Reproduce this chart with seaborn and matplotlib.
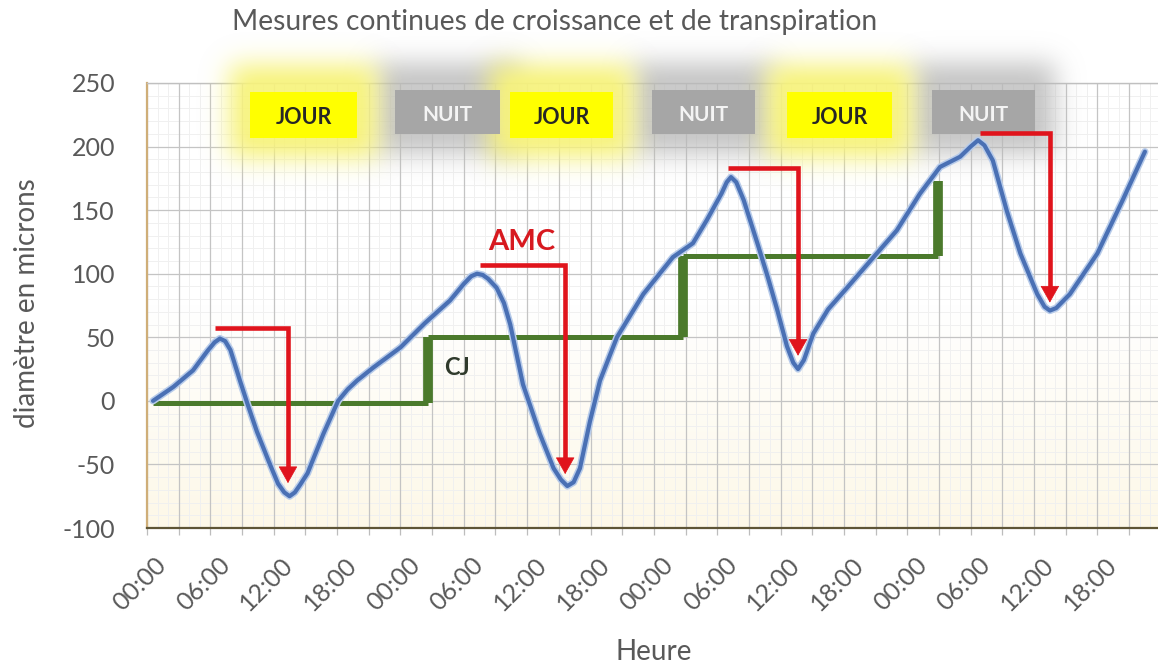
import numpy as np
import pandas as pd
import matplotlib
matplotlib.use("Agg")
import matplotlib.pyplot as plt
import matplotlib.patheffects as pe
from matplotlib.patches import Rectangle
from matplotlib.colors import LinearSegmentedColormap, to_rgb
import seaborn as sns

# ---------------- data ----------------
hours = [-0.93, 1.0, 2.86, 4.2, 4.9, 5.4, 5.9, 6.4, 7.3, 8.0, 8.9, 10.0, 10.9, 11.5,
         12.0, 12.5, 13.0, 13.7, 15.2, 16.6, 17.5, 18.4, 19.9, 21.2, 22.5,
         24.8, 26.0, 27.2, 28.5, 29.2, 29.75, 30.3, 30.8, 31.6, 32.3, 32.9, 34.1,
         35.7, 37.0, 37.7, 38.3, 38.9, 39.5, 40.45, 41.4, 43.0, 45.5, 48.3, 50.2,
         51.5, 52.9, 53.4, 53.8, 54.3, 55.0, 56.3, 57.3, 58.2, 59.1, 59.7, 60.15,
         60.7, 61.6, 63.0, 64.8, 67.3, 69.5, 71.7, 73.6, 75.5, 76.5, 77.2, 77.8,
         78.6, 79.9, 81.2, 82.8, 83.5, 84.0, 84.6, 85.9, 88.5, 90.9, 93.0]
diameter = [0, 11, 24, 39, 46, 49, 47, 40, 16, -2, -24, -47, -65, -72,
            -75, -72, -66, -57, -26, 0, 9, 16, 26, 34, 42,
            61, 70, 79, 92, 98, 100, 99, 96, 89, 77, 60, 13,
            -26, -53, -62, -67, -64, -53, -16, 16, 50, 84, 113, 124,
            142, 163, 172, 176, 172, 158, 124, 97, 71, 43, 30, 25,
            32, 53, 72, 89, 113, 134, 163, 184, 192, 200, 205, 201,
            189, 150, 116, 84, 74, 71, 73, 84, 116, 158, 196]

# CJ step (croissance journaliere)
cj_hours = [-0.9, 25.1, 49.3, 73.4]
cj_values = [-2, 50, 114, 173]

# AMC arrows
amc_start = [4.9, 30.0, 53.5, 77.4]
amc_end = [11.85, 38.1, 60.15, 84.0]
amc_top = [57, 106.5, 183, 211]
amc_tip = [-64.7, -57.6, 35.5, 77.3]

# day / night boxes
period_labels = ["JOUR", "NUIT", "JOUR", "NUIT", "JOUR", "NUIT"]
period_start = [8.25, 22.0, 32.9, 46.3, 59.1, 72.8]
period_end = [18.4, 31.9, 42.6, 56.1, 69.05, 82.6]
period_bottom = [206.6, 209.8, 206.6, 209.8, 206.6, 209.8]
period_top = [243.0, 244.5, 243.0, 244.5, 243.0, 244.5]

tick_hours = list(range(0, 91, 6))
tick_labels = ["00:00", "06:00", "12:00", "18:00"] * 4
y_ticks = [-100, -50, 0, 50, 100, 150, 200, 250]

title = "Mesures continues de croissance et de transpiration"
xlabel = "Heure"
ylabel = "diamètre en microns"

# ---------------- style ----------------
sns.set_theme(style="white")
plt.rcParams["font.family"] = ["Lato", "DejaVu Sans"]
plt.rcParams["axes.unicode_minus"] = False
GRAY_TXT = "#595959"
RED = "#e0141c"
GREEN = "#4b7a2c"
BLUE = "#4a70b4"

W, H = 1158, 668
fig = plt.figure(figsize=(W / 100, H / 100), dpi=100)
ax_l, ax_r, ax_t, ax_b = 147, 1158, 83, 528
ax = fig.add_axes([ax_l / W, 1 - ax_b / H, (ax_r - ax_l) / W, (ax_b - ax_t) / H])

xmin = -1.5
xmax = xmin + (ax_r - ax_l) / (31.68 / 3)
ymin, ymax = -100, 250
px_h = (ax_r - ax_l) / (xmax - xmin)
px_v = (ax_b - ax_t) / (ymax - ymin)

# background gradient
cmap_bg = LinearSegmentedColormap.from_list("bg", ["#ffffff", "#ffffff", "#fdf8e8"])
ax.imshow(np.linspace(0, 1, 256).reshape(-1, 1), cmap=cmap_bg, extent=[0, 1, 0, 1],
          transform=ax.transAxes, aspect="auto", zorder=0)

# grids
for h in np.arange(xmin, xmax, 1.0):
    ax.axvline(h, color="#f0f0f0", lw=0.7, zorder=0.5)
for v in range(ymin, ymax + 1, 10):
    ax.axhline(v, color="#f0f0f0", lw=0.7, zorder=0.5)
ax.set_xticks(np.arange(xmin, xmax, 3.0), minor=True)
ax.grid(which="minor", axis="x", color="#c4c4c4", lw=0.9, zorder=0.6)
ax.set_yticks(y_ticks)
ax.grid(which="major", axis="y", color="#c4c4c4", lw=0.9, zorder=0.6)
ax.set_axisbelow(True)

ax.set_xticks(tick_hours)
ax.set_xticklabels(tick_labels, rotation=45, ha="right", va="center",
                   rotation_mode="anchor", color=GRAY_TXT, fontsize=18)
ax.tick_params(axis="x", which="major", length=0, pad=24)
ax.tick_params(axis="x", which="minor", length=5, color="#bdbdbd", width=0.9,
               direction="out", bottom=True)
ax.tick_params(axis="y", length=0, pad=23, labelsize=18, labelcolor=GRAY_TXT)

for s in ax.spines.values():
    s.set_visible(True)
ax.spines["top"].set_color("#c0c0c0")
ax.spines["top"].set_linewidth(1.0)
ax.spines["left"].set_color("#cfae78")
ax.spines["left"].set_linewidth(1.6)
ax.spines["bottom"].set_color("#5e5535")
ax.spines["bottom"].set_linewidth(1.6)
ax.spines["right"].set_visible(False)

# ---------------- glow behind day / night boxes ----------------
def gauss_blur(img, sigma):
    r = int(3 * sigma)
    k = np.exp(-0.5 * (np.arange(-r, r + 1) / sigma) ** 2)
    k /= k.sum()
    img = np.apply_along_axis(lambda m: np.convolve(m, k, mode="same"), 0, img)
    img = np.apply_along_axis(lambda m: np.convolve(m, k, mode="same"), 1, img)
    return img

g_top, g_bot = 0, 260  # figure pixel rows covered by the glow image
nx, ny = ax_r - ax_l, g_bot - g_top
mask_day = np.zeros((ny, nx))
mask_night = np.zeros((ny, nx))
grow = 20
for lab, x0, x1, y0, y1 in zip(period_labels, period_start, period_end,
                               period_bottom, period_top):
    c0 = int(round((x0 - xmin) * px_h)) - grow
    c1 = int(round((x1 - xmin) * px_h)) + grow
    r0 = int(round(ax_t + (ymax - y1) * px_v)) - g_top - grow - 6
    r1 = int(round(ax_t + (ymax - y0) * px_v)) - g_top + grow
    m = mask_day if lab == "JOUR" else mask_night
    m[max(r0, 0):r1, max(c0, 0):c1] = 1.0
a_day = np.clip(gauss_blur(mask_day, 13) * 1.05, 0, 0.92)
a_night = np.clip(gauss_blur(mask_night, 13) * 0.85, 0, 0.75)
v_top = ymax + (ax_t - g_top) / px_v
v_bot = ymax - (g_bot - ax_t) / px_v
for a, col in ((a_night, "#b9b9b9"), (a_day, "#f7f37c")):
    rgba = np.zeros((ny, nx, 4))
    rgba[..., :3] = to_rgb(col)
    rgba[..., 3] = a
    ax.imshow(rgba, extent=[xmin, xmax, v_bot, v_top], origin="upper", aspect="auto",
              zorder=2.7, clip_on=False, interpolation="bilinear")

for lab, x0, x1, y0, y1 in zip(period_labels, period_start, period_end,
                               period_bottom, period_top):
    day = lab == "JOUR"
    ax.add_patch(Rectangle((x0, y0), x1 - x0, y1 - y0,
                           facecolor="#ffff00" if day else "#a6a6a6",
                           edgecolor="none", zorder=5, clip_on=False))
    ax.text((x0 + x1) / 2, (y0 + y1) / 2 - 2, lab, ha="center", va="center",
            fontsize=15.5 if day else 15, fontweight="bold",
            color="#262626" if day else "#f4f4f4", zorder=6)

# ---------------- CJ green steps ----------------
for i in range(len(cj_hours) - 1):
    ax.hlines(cj_values[i], cj_hours[i], cj_hours[i + 1], color=GREEN, lw=3.6, zorder=3)
    ax.vlines(cj_hours[i + 1], cj_values[i], cj_values[i + 1], color=GREEN, lw=7, zorder=3)
ax.text(27.9, 26, "CJ", ha="center", va="center", fontsize=17, fontweight="bold",
        color="#2f3a2c", zorder=7)

# ---------------- blue curve ----------------
df = pd.DataFrame({"hours": hours, "diameter": diameter})
sns.lineplot(data=df, x="hours", y="diameter", ax=ax, sort=False, color=BLUE,
             lw=3.0, zorder=4, solid_joinstyle="round",
             path_effects=[pe.Stroke(linewidth=5.2, foreground="#b7cbea"), pe.Normal()])

# ---------------- AMC red arrows ----------------
head_len = 15 / px_v
for xs, xe, yt, yb in zip(amc_start, amc_end, amc_top, amc_tip):
    ax.plot([xs, xe, xe], [yt, yt, yb + head_len * 0.9], color=RED, lw=3.3,
            solid_joinstyle="miter", solid_capstyle="butt", zorder=6)
    ax.annotate("", xy=(xe, yb), xytext=(xe, yb + head_len * 1.2),
                arrowprops=dict(arrowstyle="-|>,head_length=0.8,head_width=0.45",
                                color=RED, lw=0.5, mutation_scale=14,
                                shrinkA=0, shrinkB=0), zorder=6)
ax.text(34.0, 124.6, "AMC", ha="center", va="center", fontsize=21, fontweight="bold",
        color="#d7191f", zorder=7)

ax.set_xlim(xmin, xmax)
ax.set_ylim(ymin, ymax)

# ---------------- labels ----------------
ax.set_xlabel("")
ax.set_ylabel("")
fig.text(555 / W, 1 - 22 / H, title, ha="center", va="center", fontsize=20.3,
         color=GRAY_TXT, zorder=10)
fig.text(((ax_l + 1161) / 2) / W, 1 - 652 / H, xlabel, ha="center", va="center",
         fontsize=20, color=GRAY_TXT)
fig.text(27 / W, 1 - 303 / H, ylabel, ha="center", va="center", rotation=90,
         fontsize=20, color=GRAY_TXT)

fig.savefig("out.png", dpi=100, facecolor="white")
